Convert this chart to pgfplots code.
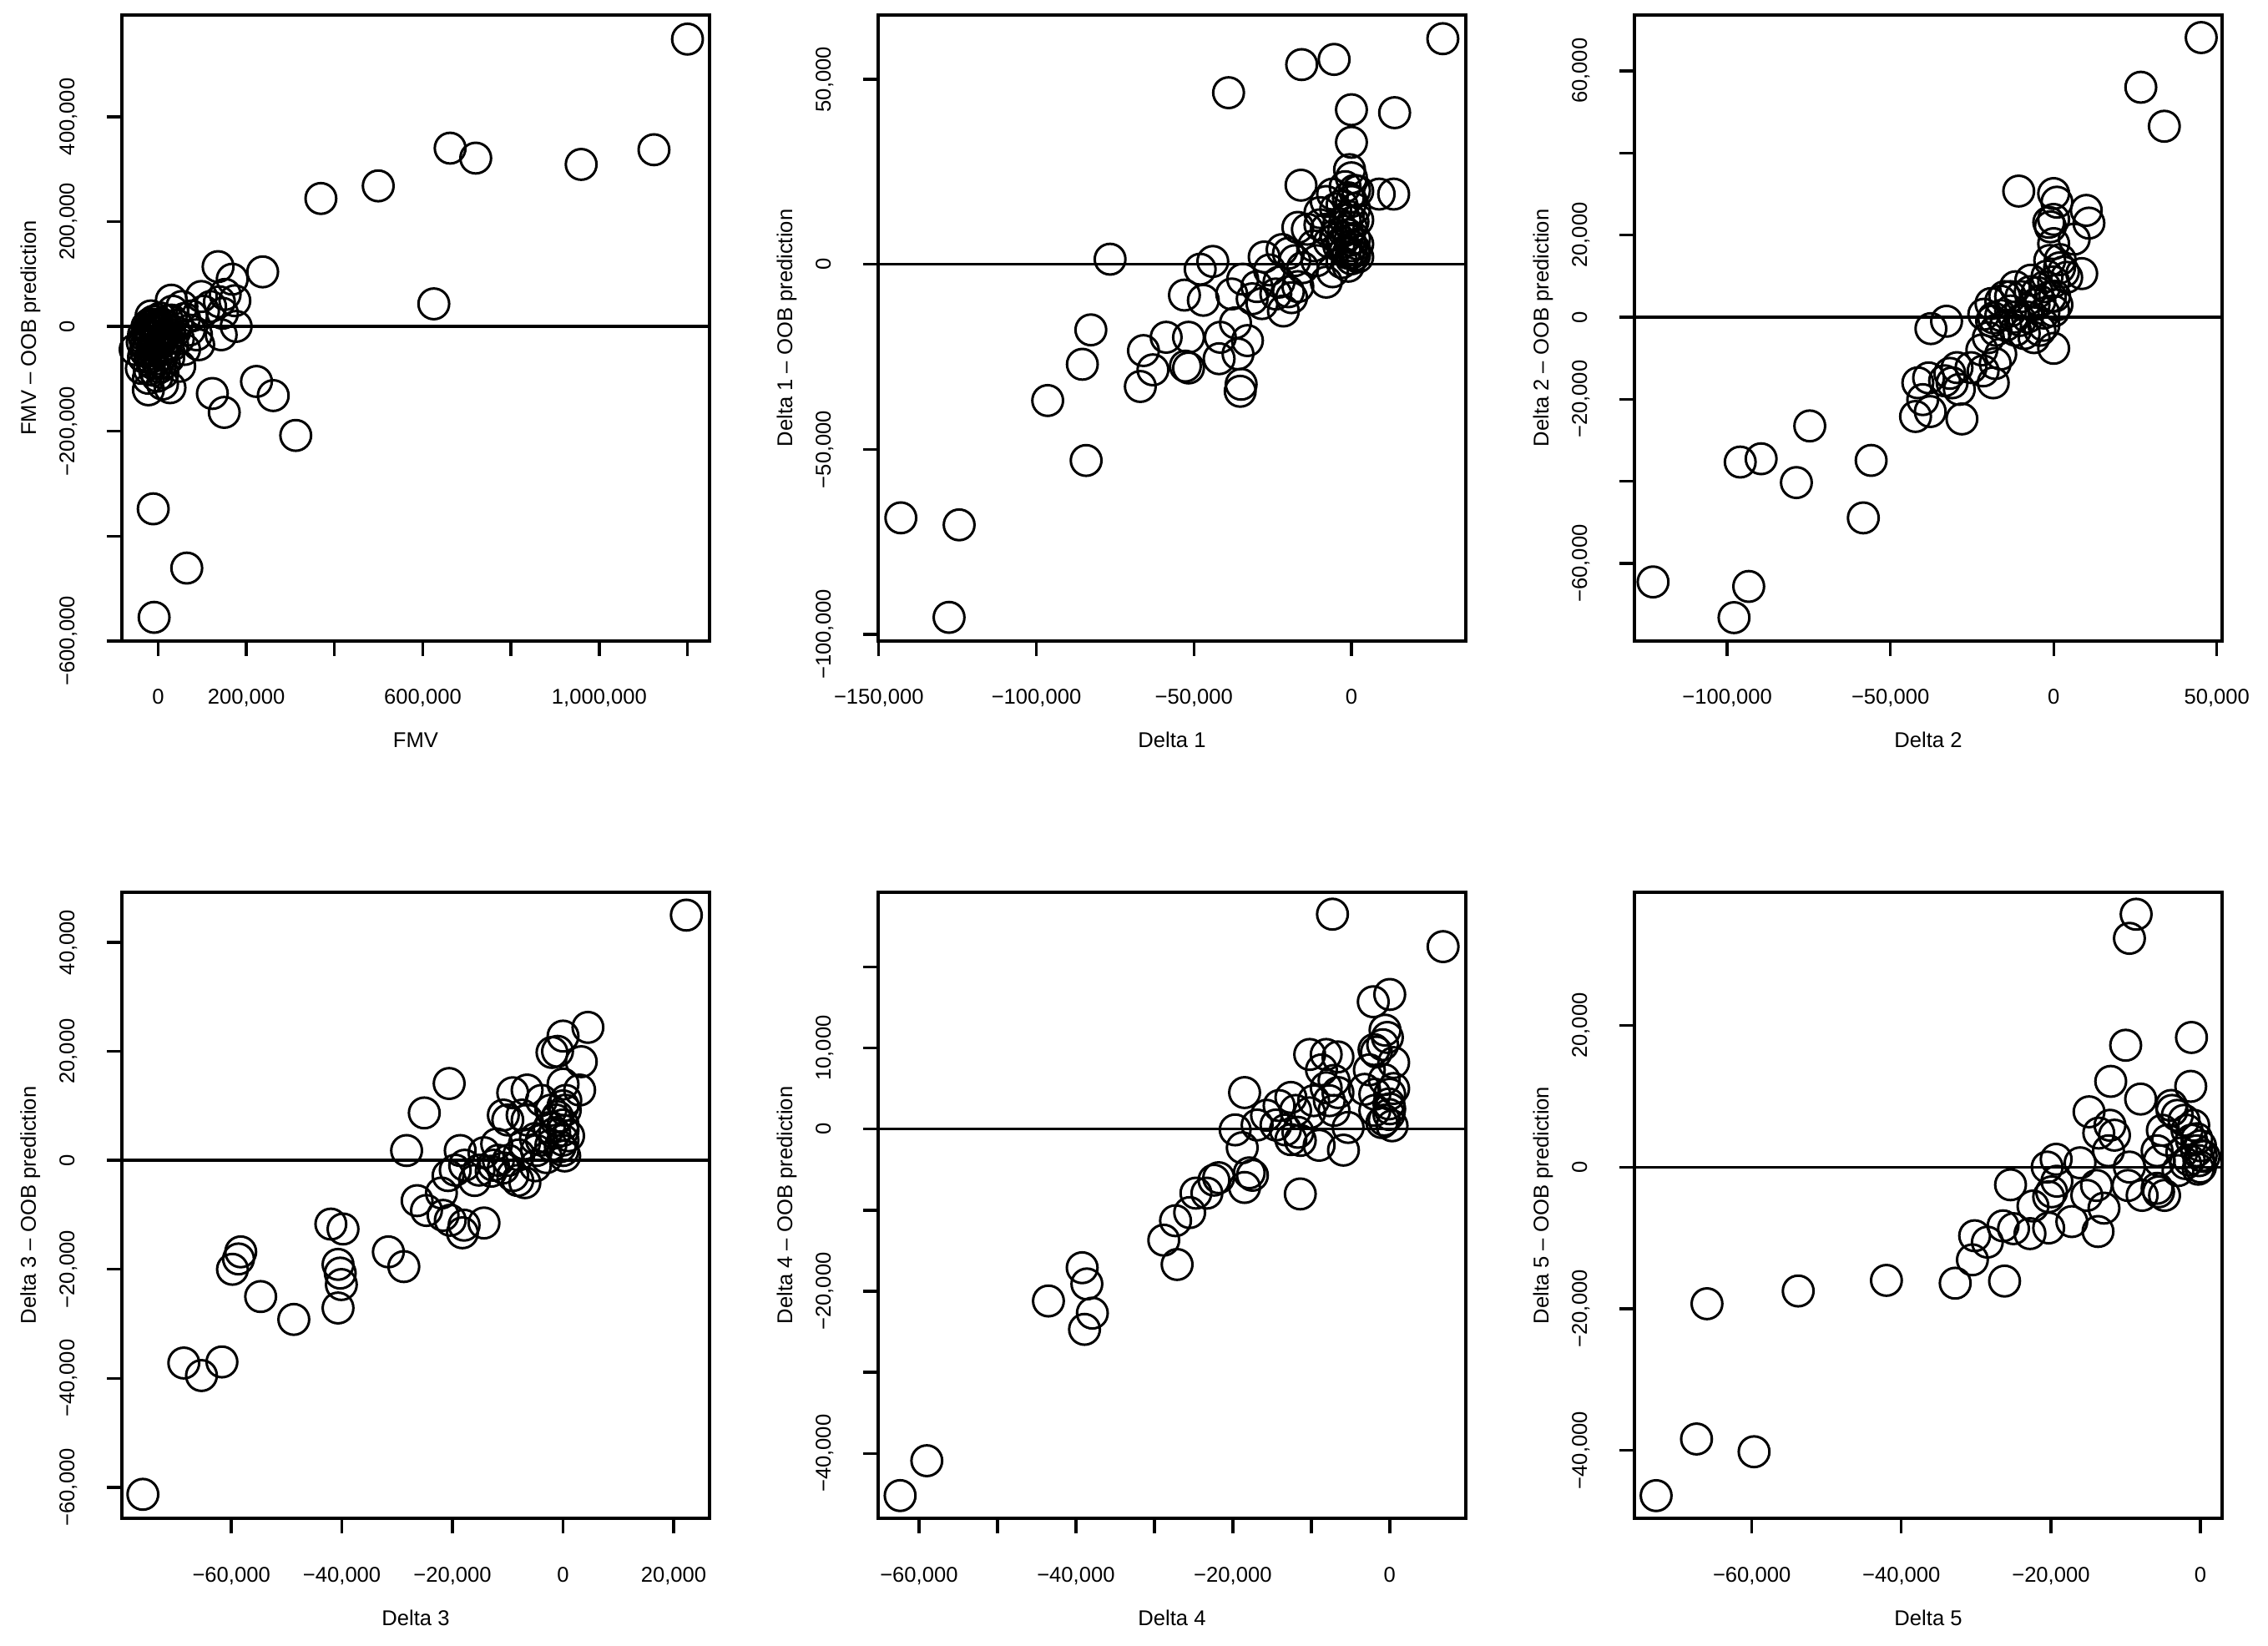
\documentclass[border=0pt]{standalone}
\usepackage{fontspec}
\setmainfont{Liberation Sans}
\usepackage{pgfplots}
\pgfplotsset{compat=1.18}

% values in thousands; one panel is 704 x 750 px of the 2717 x 1971 reference (1 px = 0.25pt)
\pgfplotsset{
  rpanel/.style={
    scale only axis, width=176pt, height=187.5pt, anchor=south west,
    axis line style={line width=0.85pt},
    tick align=outside, xtick pos=bottom, ytick pos=left,
    major tick length=4.5pt, major tick style={line width=0.85pt, black},
    minor tick num=0, scaled ticks=false,
    tick label style={font=\fontsize{6.4}{7.7}\selectfont},
    label style={font=\fontsize{6.4}{7.7}\selectfont},
    xticklabel style={anchor=base, inner sep=0pt, yshift=-14.5pt},
    yticklabel style={xshift=-9.75pt, rotate=90, anchor=base, inner sep=0pt},
    every axis x label/.style={at={(axis description cs:0.5,0)}, yshift=-32pt, anchor=base, inner sep=0pt},
    every axis y label/.style={at={(axis description cs:0,0.5)}, xshift=-25.75pt, rotate=90, anchor=base, inner sep=0pt},
  },
  pts/.style={only marks, mark=o, mark size=4.6pt, mark options={line width=0.75pt, black}},
  zero/.style={black, line width=0.85pt, no marks},
}

\begin{document}
\fontsize{6.4}{7.7}\selectfont
\begin{tikzpicture}
\useasboundingbox (0,0) rectangle (679.25pt,492.75pt);

% FMV
\begin{axis}[rpanel, at={(36.5pt,300.75pt)},
  xmin=-82.1, xmax=1250, ymin=-600.2, ymax=593.9,
  xtick={0,200,400,600,800,1000,1200},
  xticklabels={0,{200,000},{},{600,000},{},{1,000,000},{}},
  ytick={-600,-400,-200,0,200,400},
  yticklabels={{−600,000},{},{−200,000},0,{200,000},{400,000}},
  xlabel={FMV}, ylabel={FMV – OOB prediction}]
\addplot[pts] coordinates {
(1200,548)(662,340)(720,321)(959,309)(1124,337)(369,244)(499,268)(237,104)(625,43)
(136,114)(168,90)(174,49)(152,61)(139,47)(146,25)(177,0)(143,-16)(223,-105)(261,-132)
(123,-128)(150,-164)(312,-208)(-11,-348)(65,-461)(-9,-555)
(-52,-44)(-38,-80)(-22,-99)(-22,-121)(0,-71)(27,-117)(49,-76)(33,-35)(-33,-16)(0,2)
(22,11)(54,38)(76,20)(98,57)(87,-16)(60,-44)(11,-53)(-11,-35)(16,-16)(-16,20)(33,29)
(71,-7)(103,29)(119,38)(-22,-7)(-5,-21)(11,-89)(-11,-71)(-33,-58)(-27,-35)(-13,2)(5,16)
(43,2)(92,-35)(-20,-20)(-15,-10)(-8,-5)(-3,-12)(2,-8)(-18,5)(-25,0)(-10,10)(8,5)(-5,-40)
(5,-30)(-30,-25)(20,-25)(38,-10)(60,15)(30,50)(-2,-95)(-18,-60)(10,-110)
(-28,-48)(-14,-52)(-4,-62)(8,-45)(18,-40)(24,-60)(-20,-82)(-8,-84)(4,-78)(14,-70)
(-36,-30)(-2,-28)(12,-20)(26,-8)(-24,-14)(-6,4)(14,-4)(30,12)(46,-24)(-12,-46)};
\addplot[zero] coordinates {(-82.1,0)(1250,0)};
\end{axis}

% Delta 1
\begin{axis}[rpanel, at={(263pt,300.75pt)},
  xmin=-150.2, xmax=36.3, ymin=-101.8, ymax=67.4,
  xtick={-150,-100,-50,0},
  xticklabels={{−150,000},{−100,000},{−50,000},0},
  ytick={-100,-50,0,50},
  yticklabels={{−100,000},{−50,000},0,{50,000}},
  xlabel={Delta 1}, ylabel={Delta 1 – OOB prediction}]
\addplot[pts] coordinates {
(29,61)(-15.8,54)(-5.5,55.4)(-39,46.4)(0,41.8)(13.7,41)(0,33)(-0.6,25.6)(0,23.4)(-16,21.4)
(13.4,19)(8.8,19)(2,19.8)(1,20)(-1,18)(-3,16)(-5,15)(1,15)(-2,12)(2,12)(0,10)(-8,9.5)
(-5,8)(-3,6)(0,5)(1,4)(-1,3)(2,2)(0,1.5)(-2,3.5)(-4,5)(-7,6)(-10,10.7)(-14,9.5)(-12,5)
(-11,1)(-15.5,-0.9)(-8,-4.8)(-6,-2)(-3,0.5)(1,7)(0,3)(-1,-0.5)(2,5.5)(-1,13)(-4,11)
(-2,21)(-6,19)(-8,17)(-10,14)(-17,10)(-20,3)(-22,4)(-18,1)(-20,-7.4)(-17,-6)(-23,-4.8)
(-21.6,-12.6)(-24,-8)(-19,-9)(-26,-1.5)(-27.7,2)(-28.4,-10.6)(-31.5,-9.3)(-34.5,-4)
(-38,-8)(-30,-6)(-48,-1.3)(-44,0.8)(-53,-8.3)(-47,-9.7)(-76.6,1.4)(-36.8,-15.8)
(-33,-20.6)(-36,-24.2)(-41.6,-19.7)(-42,-25.5)(-51.7,-19.7)(-58.8,-19.7)(-66,-23.3)
(-63,-28.5)(-52.7,-27.5)(-51.7,-28)(-67,-33)(-35,-32.4)(-35.3,-34.3)(-82.7,-17.7)
(-85.4,-27)(-96.4,-36.8)(-84.2,-53)(-143,-68.5)(-124.5,-70.4)(-127.7,-95.4)
(0,17)(-1,8)(1,2.5)(-0.5,6.5)(-2.5,9)(0.5,11.5)};
\addplot[zero] coordinates {(-150.2,0)(36.3,0)};
\end{axis}

% Delta 2
\begin{axis}[rpanel, at={(489.5pt,300.75pt)},
  xmin=-128.4, xmax=51.6, ymin=-78.9, ymax=73.6,
  xtick={-100,-50,0,50},
  xticklabels={{−100,000},{−50,000},0,{50,000}},
  ytick={-60,-40,-20,0,20,40,60},
  yticklabels={{−60,000},{},{−20,000},0,{20,000},{},{60,000}},
  xlabel={Delta 2}, ylabel={Delta 2 – OOB prediction}]
\addplot[pts] coordinates {
(45.2,68.1)(26.7,56)(33.9,46.5)(-10.7,30.7)(0,30.1)(1,28)(10,26)(10.8,22.9)(-1.5,23.1)
(0,23.8)(6.3,19)(0,17.9)(-1.2,13.8)(1.8,12)(4,9.7)(8.6,10.6)(0,8.6)(0.3,5.1)(-2.7,7.4)
(-4.2,3.9)(-7.2,6.2)(-11.7,7.4)(-13.2,5)(-16.2,3.9)(-19.2,3.3)(-21.4,0.7)(-18.4,-0.2)
(-16.2,0.4)(-13.2,1.5)(-10.2,-0.8)(-14.7,-2)(-11.7,-3.2)(-17.7,-3.2)(-4.2,-3.2)(0,1.5)
(0,-7.6)(-32.8,-1)(-37.6,-2.8)(-25.3,-12.3)(-21.6,-13.1)(-17.9,-11.3)(-16.2,-9)
(-18.5,-16)(-29.6,-12.3)(-31.8,-13.7)(-33.4,-15.5)(-28.9,-17.6)(-31.1,-16)(-38.3,-14.8)
(-41.6,-16)(-40.1,-20.1)(-37.8,-23)(-42.3,-24.2)(-28.1,-24.8)(-74.7,-26.5)(-89.6,-34.5)
(-96,-35.3)(-78.8,-40.3)(-55.9,-34.9)(-58.3,-48.9)(-122.7,-64.5)(-93.4,-65.6)(-97.9,-73.2)
(-2,10)(2,14)(-1,22)(3,11)(-3,1)(-6,3)(-8,0)(-9,-4)(-6,-5)(-3,-2)(-12,0)(-15,5)(-10,5)
(-7,9)(1,3)(-1,5)(-5,6)(-20,-5)(-22,-8)(-19,-1)};
\addplot[zero] coordinates {(-128.4,0)(51.6,0)};
\end{axis}

% Delta 3
\begin{axis}[rpanel, at={(36.5pt,38pt)},
  xmin=-79.8, xmax=26.5, ymin=-65.7, ymax=49.2,
  xtick={-60,-40,-20,0,20},
  xticklabels={{−60,000},{−40,000},{−20,000},0,{20,000}},
  ytick={-60,-40,-20,0,20,40},
  yticklabels={{−60,000},{−40,000},{−20,000},0,{20,000},{40,000}},
  xlabel={Delta 3}, ylabel={Delta 3 – OOB prediction}]
\addplot[pts] coordinates {
(22.3,45)(4.5,24.4)(0,22.8)(-2,19.8)(3.3,18.1)(-1,20)(0,14)(3,12.9)(-20.6,14.1)(-25.1,8.7)
(-28.3,1.8)(-6.5,12.9)(-9.1,12.4)(-7.4,8.3)(-10.8,8.3)(-10,7.4)(-6.5,7.4)(-3.9,11)
(-2.2,9.2)(0.4,9.2)(-1.3,7.4)(0,5.5)(0,3.7)(0,1.8)(-3.9,3.7)(-4.8,1.8)(-2.2,2.8)
(-14.3,1.4)(-18.6,1.8)(-19.5,-1.8)(-20.8,-2.8)(-17.8,-0.9)(-16,-3.7)(-15.2,-1.8)
(-12.6,-0.9)(-10.8,-1.4)(-9.1,-2.8)(-8.2,-3.7)(-6.9,-4.1)(-11.7,0)(-9.9,0)(-26.4,-7.4)
(-24.7,-9.2)(-21.7,-10.1)(-20.4,-11)(-18.2,-13.3)(-14.3,-11.5)(-17.9,-11.9)(-42,-11.7)
(-39.8,-12.6)(-58.3,-16.8)(-58.7,-18.1)(-59.8,-20)(-54.7,-25)(-48.7,-29.2)(-40.7,-19.1)
(-40.3,-20.7)(-40.1,-22.8)(-40.7,-27.1)(-31.6,-16.8)(-28.8,-19.5)(-68.6,-37.2)
(-65.4,-39.5)(-61.7,-37)(-76,-61.3)(0,10)(0.5,11)(-1,8)(0,6.5)(1,4.5)(-0.5,2.5)
(0.3,0.8)(-1.5,5)(-2.5,6)(-5,4)(-7,3)(-8,1)(-3,0.5)(-12,3)(-13,-2)(-5,-1)(-22,-6)};
\addplot[zero] coordinates {(-79.8,0)(26.5,0)};
\end{axis}

% Delta 4
\begin{axis}[rpanel, at={(263pt,38pt)},
  xmin=-65.2, xmax=9.7, ymin=-48.0, ymax=29.2,
  xtick={-60,-50,-40,-30,-20,-10,0},
  xticklabels={{−60,000},{},{−40,000},{},{−20,000},{},0},
  ytick={-40,-30,-20,-10,0,10,20},
  yticklabels={{−40,000},{},{−20,000},{},0,{10,000},{}},
  xlabel={Delta 4}, ylabel={Delta 4 – OOB prediction}]
\addplot[pts] coordinates {
(-7.3,26.5)(6.8,22.5)(0,16.6)(-2.1,15.7)(-0.6,12.2)(-0.3,11.3)(-0.9,10.4)(-1.7,9.5)
(-2,9.8)(0.5,8.2)(-2.6,7.3)(-0.7,6.1)(0,4.3)(-0.1,3.1)(-0.1,1.8)(-0.7,1.1)(-1.9,4.3)
(-3.2,4.9)(-1.9,2.3)(0,2.5)(0.5,5)(-1,0.8)(0.3,0.4)(-10.2,9.2)(-8.1,9.2)(-6.6,8.9)
(-8.7,7.3)(-7.1,6)(-8.1,5.1)(-6.6,4.5)(-9.7,3.5)(-10.2,2)(-7.7,3.5)(-7.1,2.3)(-5.3,0.2)
(-18.5,4.5)(-12.6,3.9)(-14.1,2.9)(-12,2.3)(-15.7,1.7)(-16.9,0.5)(-14.5,0.5)(-13.3,-0.1)
(-11.7,-0.4)(-11.4,-1.4)(-12.6,-1.3)(-19.7,-0.1)(-18.8,-2.3)(-5.9,-2.6)(-9,-2)(-11.4,-8)
(-17.5,-5.7)(-18.5,-7.2)(-17.9,-5.4)(-22.4,-6.3)(-21.8,-6)(-23.3,-7.9)(-24.7,-7.9)
(-25.5,-10.3)(-27.3,-11.3)(-28.8,-13.7)(-27.1,-16.7)(-43.5,-21.2)(-37.9,-22.7)
(-38.9,-24.7)(-38.6,-19.1)(-39.2,-17.1)(-62.4,-45.2)(-59,-40.9)};
\addplot[zero] coordinates {(-65.2,0)(9.7,0)};
\end{axis}

% Delta 5
\begin{axis}[rpanel, at={(489.5pt,38pt)},
  xmin=-75.7, xmax=2.9, ymin=-49.6, ymax=38.8,
  xtick={-60,-40,-20,0},
  xticklabels={{−60,000},{−40,000},{−20,000},0},
  ytick={-40,-20,0,20},
  yticklabels={{−40,000},{−20,000},0,{20,000}},
  xlabel={Delta 5}, ylabel={Delta 5 – OOB prediction}]
\addplot[pts] coordinates {
(-8.6,35.7)(-9.5,32.3)(-1.2,18.3)(-10,17.2)(-1.3,11.4)(-12,12.1)(-8,9.6)(-3.9,8.7)
(-14.9,7.8)(-12.1,5.9)(-11.5,4.5)(-13.6,4.8)(-12.3,2.3)(-3.8,8)(-3.1,7.3)(-2.2,6.6)
(-1.8,5.2)(-1.2,3.8)(-0.5,2.3)(-0.2,0.9)(0,0)(0.1,1.6)(-0.9,5.9)(-5.1,5.2)(-4.4,3.8)
(-5.8,2.3)(-5.5,0.9)(-0.5,4)(0,3)(0.5,1.5)(-0.3,-0.3)(-1.5,1)(-2.5,2)(-2,0.5)(-3,-0.5)
(-9.5,0)(-16.1,0.6)(-19.3,1.1)(-20.5,0)(-25.4,-2.5)(-13.9,-2.6)(-15.2,-4)(-12.9,-5.8)
(-19.9,-3.5)(-20.3,-4.2)(-19.2,-2)(-9.7,-2.6)(-7.8,-4)(-5.8,-3)(-5.6,-3.5)(-4.8,-4)
(-22.4,-5.5)(-17.2,-7.7)(-20.3,-8.6)(-22.8,-9.4)(-13.7,-9.1)(-26.4,-8.3)(-25,-8.7)
(-30.2,-9.7)(-28.5,-10.6)(-30.5,-13.1)(-32.8,-16.4)(-26.2,-16.1)(-42,-16)(-53.8,-17.5)
(-66,-19.3)(-67.4,-38.4)(-59.7,-40.2)(-72.8,-46.4)};
\addplot[zero] coordinates {(-75.7,0)(2.9,0)};
\end{axis}
\end{tikzpicture}
\end{document}
